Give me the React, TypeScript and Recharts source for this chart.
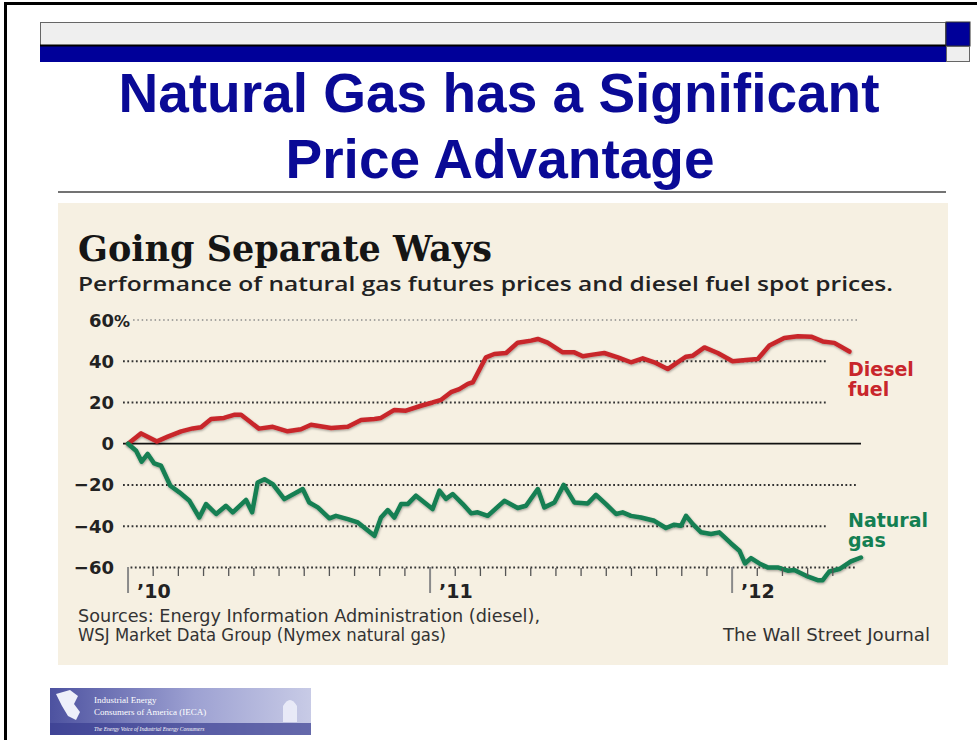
import React from "react";
import { LineChart, Line, XAxis, YAxis, ReferenceLine } from "recharts";

// months since Jan 2010, % change
const dieselMonths = [
  0, 0.52, 1.15, 1.58, 2.11, 2.57, 2.9, 3.3, 3.81, 4.21, 4.49, 4.81, 5.2, 5.75, 6.34, 6.87, 7.27, 8.07,
  8.73, 9.26, 9.79, 10.05, 10.58, 11.04, 11.64, 12.1, 12.44, 12.83, 13.16, 13.5, 13.7, 14.22, 14.55,
  15.02, 15.48, 16.01, 16.28, 16.67, 17.27, 17.73, 18.07, 18.46, 18.92, 19.46, 19.98, 20.45, 20.91,
  21.44, 21.77, 22.17, 22.44, 22.9, 23.43, 24.02, 24.55, 25.02, 25.48, 26.07, 26.61, 27.14, 27.6,
  28.06, 28.66,
];
const dieselValues = [
  0, 5, 1.1, 3.4, 6, 7.4, 8, 12, 12.5, 14, 14, 11, 7.3, 8.2, 6, 7, 9.2, 7.6, 8.2, 11.5, 12, 12.5,
  16.4, 16, 18.4, 20, 21.3, 25, 26.5, 29, 29.8, 41.9, 43.5, 44, 49, 50, 50.8, 49, 44.3, 44.3, 42.4,
  43.2, 44, 41.9, 39.5, 41.4, 39.5, 36.2, 39, 42.2, 42.7, 46.7, 44, 40, 40.6, 41.1, 47.6, 51.3, 52.1,
  51.9, 49.6, 48.9, 44.7,
];

const gasMonths = [
  0, 0.32, 0.54, 0.78, 1.04, 1.31, 1.68, 2.04, 2.44, 2.83, 3.1, 3.5, 3.89, 4.16, 4.69, 4.93, 5.15,
  5.42, 5.75, 6.21, 6.94, 7.2, 7.54, 8.0, 8.26, 8.73, 9.13, 9.79, 10.05, 10.32, 10.58, 10.85, 11.11,
  11.44, 12.1, 12.37, 12.63, 12.9, 13.3, 13.63, 13.89, 14.29, 14.95, 15.48, 15.81, 16.28, 16.54,
  16.94, 17.31, 17.73, 18.26, 18.59, 18.99, 19.39, 19.65, 19.98, 20.38, 20.91, 21.37, 21.7, 21.97,
  22.17, 22.44, 22.77, 23.16, 23.49, 23.96, 24.29, 24.51, 24.75, 25.08, 25.41, 25.81, 26.21, 26.47,
  26.94, 27.4, 27.6, 27.86, 28.26, 28.72, 29.12,
];
const gasValues = [
  0, -3.4, -8.7, -5, -9.6, -10.7, -20.4, -23.6, -27.7, -35.8, -29.3, -34.1, -30.1, -33.3, -27.3,
  -33.3, -18.8, -17.2, -19.6, -26.9, -22, -28.5, -30.9, -36.2, -35, -36.6, -38.2, -44.7, -35.8,
  -32.2, -35.8, -29.3, -29.3, -25.2, -31.7, -22.8, -26.8, -24.4, -29.3, -33.8, -33.3, -35, -27.7,
  -31.2, -30.1, -22, -30.9, -28.5, -20, -28.5, -29, -24.8, -29.3, -34.1, -33.3, -35, -35.8, -37.4,
  -40.9, -39.3, -39.8, -35, -39, -43, -43.8, -43, -48.4, -51.9, -58.1, -55.5, -58.1, -60, -60, -61.6,
  -61.3, -64.1, -66.2, -66.2, -62, -60.8, -57.1, -55.2,
];

const yTicks = [60, 40, 20, 0, -20, -40, -60];
const monthTicks = [
  0, 1, 2, 3, 4, 5, 6, 7, 8, 9, 10, 11, 12, 13, 14, 15, 16, 17, 18, 19, 20, 21, 22, 23, 24, 25, 26,
  27, 28,
];
const yearLabels = ["\u201910", "\u201911", "\u201912"];

const diesel = dieselMonths.map((m, i) => ({ m, v: dieselValues[i] }));
const gas = gasMonths.map((m, i) => ({ m, v: gasValues[i] }));

const RED = "#c8262c";
const GREEN = "#147f52";
const SANS = "'DejaVu Sans', sans-serif";
const NARROW = "'DejaVu Sans Condensed', 'Liberation Sans Narrow', sans-serif";

function YTick(props: any) {
  const { y, payload } = props;
  const v = payload.value as number;
  const label = v < 0 ? `\u2212${Math.abs(v)}` : `${v}`;
  return (
    <g>
      <text x={114} y={y + 6.5} textAnchor="end" fontFamily={SANS} fontWeight={700} fontSize={18} fill="#222">
        {label}
      </text>
      {v === 60 && (
        <text x={114} y={y + 6.5} fontFamily={SANS} fontWeight={700} fontSize={16} fill="#222">
          %
        </text>
      )}
    </g>
  );
}

function XTick(props: any) {
  const { x, y, payload } = props;
  const m = payload.value as number;
  if (m % 12 === 0) {
    return (
      <g>
        <line x1={x} y1={y - 21} x2={x} y2={y + 5} stroke="#8a8a8a" strokeWidth={2} />
        <text x={x + 9} y={y + 10} fontFamily={SANS} fontWeight={700} fontSize={19} fill="#222">
          {yearLabels[m / 12]}
        </text>
      </g>
    );
  }
  return <line x1={x} y1={y - 20} x2={x} y2={y - 12} stroke="#555" strokeWidth={1.3} />;
}

const dotted = { stroke: "#333", strokeWidth: 2, strokeDasharray: "1.8 2.5" };

export default function App() {
  return (
    <div style={{ position: "absolute", left: 0, top: 0, width: 977, height: 740, background: "#fff", overflow: "hidden" }}>
      <svg width={977} height={740} style={{ position: "absolute", left: 0, top: 0 }}>
        <defs>
          <linearGradient id="logoGrad" x1="0" y1="0" x2="1" y2="0">
            <stop offset="0" stopColor="#4d52a0" />
            <stop offset="0.55" stopColor="#9da1d2" />
            <stop offset="1" stopColor="#c8cbe6" />
          </linearGradient>
          <filter id="lineShadow" x="-5%" y="-10%" width="110%" height="130%">
            <feDropShadow dx="0.5" dy="1.2" stdDeviation="0.9" floodColor="#000" floodOpacity="0.35" />
          </filter>
        </defs>
        {/* slide frame */}
        <rect x={4} y={2} width={973} height={3} fill="#000" />
        <rect x={4} y={2} width={3} height={738} fill="#000" />
        {/* header bars */}
        <rect x={40.5} y={22.5} width={905} height={23} fill="#efefef" stroke="#666" />
        <rect x={40} y={46} width={906} height={16} fill="#000099" />
        <line x1={40} y1={45.5} x2={946} y2={45.5} stroke="#000" strokeWidth={2} />
        <rect x={946} y={22} width={24} height={24} fill="#000099" stroke="#333" />
        <rect x={946.5} y={46.5} width={23} height={15} fill="#efefef" stroke="#666" />
        {/* slide title */}
        <text x={499} y={112} textAnchor="middle" fontFamily="'Liberation Sans', Arial, sans-serif" fontWeight={700} fontSize={55} fill="#0a0a96">
          Natural Gas has a Significant
        </text>
        <text x={500} y={178} textAnchor="middle" fontFamily="'Liberation Sans', Arial, sans-serif" fontWeight={700} fontSize={55} fill="#0a0a96">
          Price Advantage
        </text>
        <line x1={58} y1={192} x2={946} y2={192} stroke="#444" strokeWidth={1.5} />
        {/* chart panel */}
        <rect x={58} y={203} width={890} height={462} fill="#f6f0e2" />
        <text x={78} y={261} fontFamily="'DejaVu Serif', serif" fontWeight={700} fontSize={35} fill="#151515">
          Going Separate Ways
        </text>
        <text
          x={78}
          y={291}
          fontFamily="'Open Sans', 'Noto Sans', sans-serif"
          fontWeight={600}
          fontSize={19}
          fill="#222"
          textLength={815}
          lengthAdjust="spacingAndGlyphs"
        >
          Performance of natural gas futures prices and diesel fuel spot prices.
        </text>
        <text fontFamily={SANS} fontWeight={700} fontSize={19} fill={RED}>
          <tspan x={848} y={376}>Diesel</tspan>
          <tspan x={848} y={396}>fuel</tspan>
        </text>
        <text fontFamily={SANS} fontWeight={700} fontSize={19} fill={GREEN}>
          <tspan x={848} y={527}>Natural</tspan>
          <tspan x={848} y={547}>gas</tspan>
        </text>
        <text x={78} y={622} fontFamily={NARROW} fontSize={18.5} fill="#333" textLength={462} lengthAdjust="spacingAndGlyphs">
          Sources: Energy Information Administration (diesel),
        </text>
        <text x={78} y={641} fontFamily={NARROW} fontSize={18.5} fill="#333" textLength={368} lengthAdjust="spacingAndGlyphs">
          WSJ Market Data Group (Nymex natural gas)
        </text>
        <text x={723} y={641} fontFamily={NARROW} fontSize={18.5} fill="#333" textLength={207} lengthAdjust="spacingAndGlyphs">
          The Wall Street Journal
        </text>
        {/* IECA logo */}
        <rect x={50} y={688} width={261} height={47} fill="url(#logoGrad)" />
        <rect x={50} y={723} width={261} height={12} fill="#3a3f92" opacity={0.7} />
        <path d="M56 694 L70 690 L78 696 L74 704 L80 712 L76 720 L68 716 L62 706 Z" fill="#eef0fa" />
        <path d="M283 722 L283 706 Q290 694 297 706 L297 722 Z" fill="#eef0fa" opacity={0.85} />
        <text fontFamily="'Liberation Serif', serif" fontSize={9} fill="#fff">
          <tspan x={94} y={703}>Industrial Energy</tspan>
          <tspan x={94} y={715}>Consumers of America (IECA)</tspan>
        </text>
        <text x={94} y={731} fontFamily="'Liberation Serif', serif" fontStyle="italic" fontSize={5.5} fill="#fff">
          The Energy Voice of Industrial Energy Consumers
        </text>
      </svg>
      <div style={{ position: "absolute", left: 0, top: 0 }}>
        <LineChart width={977} height={740} margin={{ top: 320, right: 114, bottom: 122, left: 63 }}>
          <XAxis
            type="number"
            dataKey="m"
            domain={[-0.2, 29.2]}
            ticks={monthTicks}
            interval={0}
            axisLine={false}
            tickLine={false}
            tickSize={0}
            tickMargin={0}
            height={30}
            tick={<XTick />}
          />
          <YAxis
            type="number"
            domain={[-70, 60]}
            ticks={yTicks}
            interval={0}
            axisLine={false}
            tickLine={false}
            width={60}
            tick={<YTick />}
          />
          <ReferenceLine segment={[{ x: 0.2, y: 60 }, { x: 29.0, y: 60 }]} stroke="#8c8c8c" strokeWidth={1.5} strokeDasharray="1.5 2.8" />
          <ReferenceLine segment={[{ x: -0.2, y: 40 }, { x: 27.8, y: 40 }]} {...dotted} />
          <ReferenceLine segment={[{ x: -0.2, y: 20 }, { x: 27.8, y: 20 }]} {...dotted} />
          <ReferenceLine segment={[{ x: -0.2, y: -20 }, { x: 28.96, y: -20 }]} {...dotted} />
          <ReferenceLine segment={[{ x: -0.2, y: -40 }, { x: 27.8, y: -40 }]} {...dotted} />
          <ReferenceLine segment={[{ x: 0.1, y: -60 }, { x: 28.96, y: -60 }]} {...dotted} />
          <ReferenceLine segment={[{ x: -0.2, y: 0 }, { x: 29.12, y: 0 }]} stroke="#111" strokeWidth={1.8} />
          <Line
            data={diesel}
            dataKey="v"
            type="linear"
            stroke={RED}
            strokeWidth={4.5}
            strokeLinejoin="round"
            strokeLinecap="round"
            dot={false}
            filter="url(#lineShadow)"
            isAnimationActive={false}
          />
          <Line
            data={gas}
            dataKey="v"
            type="linear"
            stroke={GREEN}
            strokeWidth={4.5}
            strokeLinejoin="round"
            strokeLinecap="round"
            dot={false}
            filter="url(#lineShadow)"
            isAnimationActive={false}
          />
        </LineChart>
      </div>
    </div>
  );
}
